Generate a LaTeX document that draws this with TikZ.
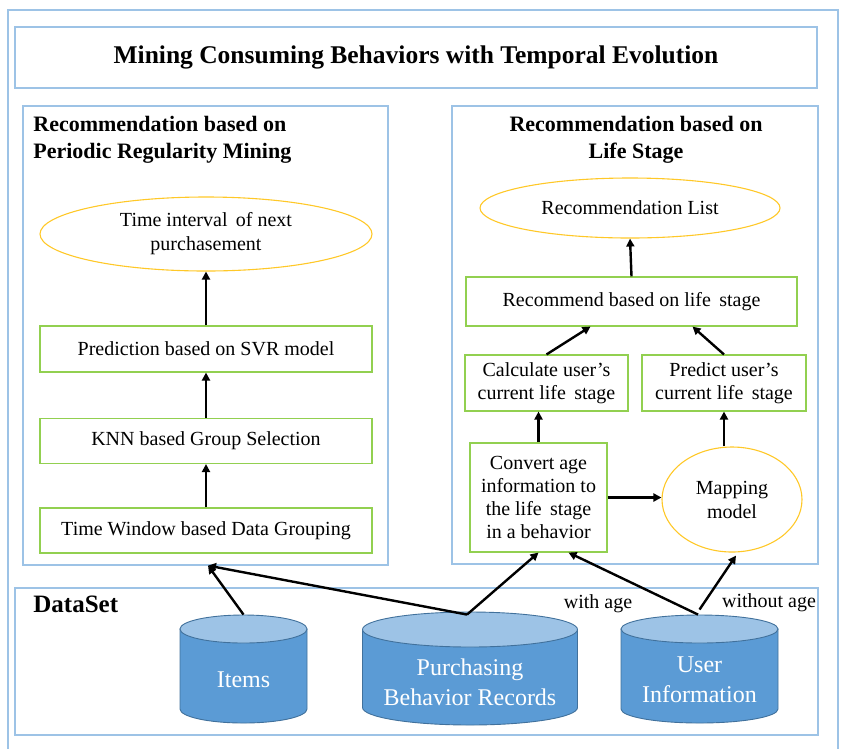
\documentclass[tikz,border=0pt]{standalone}
\usepackage{fontspec}
\setmainfont{Liberation Serif}
\usetikzlibrary{arrows.meta,shapes.geometric,calc}

\definecolor{frameblue}{RGB}{157,195,230}
\definecolor{boxgreen}{RGB}{146,208,80}
\definecolor{ovalyellow}{RGB}{255,200,40}
\definecolor{cylbody}{RGB}{91,155,213}
\definecolor{cyltop}{RGB}{157,195,230}
\definecolor{cylline}{RGB}{65,113,156}

\tikzset{every picture/.style={line width=0.75pt}}
\tikzset{
  panel/.style={draw=frameblue, line width=1.2pt, inner sep=0pt},
  stepbox/.style={draw=boxgreen, line width=1.1pt, align=center, inner sep=1pt, font=\fontsize{20}{23}\selectfont},
  oval/.style={ellipse, draw=ovalyellow, line width=1.1pt, align=center, inner sep=0pt, font=\fontsize{20}{24}\selectfont},
  dbbody/.style={draw=cylline, fill=cylbody, line width=0.9pt},
  dbcap/.style={ellipse, draw=cylline, fill=cyltop, line width=0.9pt, inner sep=0pt},
  dbtext/.style={text=white, align=center, inner sep=0pt, font=\fontsize{24}{30}\selectfont},
  flow/.style={-{Triangle[length=8pt,width=8pt]}, line width=2.4pt},
  heading/.style={inner sep=0pt, font=\fontsize{22}{27}\selectfont\bfseries}
}

\begin{document}
\begin{tikzpicture}[x=1pt,y=1pt,yscale=-1,xscale=1]
\useasboundingbox (0,0) rectangle (842,748);

%Shape: Outer Frame
\draw [frameblue, line width=1.2pt] (8,760) -- (8,10) -- (838,10) -- (838,760);

%Shape: Rectangle (title)
\node [panel, minimum width=802, minimum height=61, font=\fontsize{25.5}{30}\selectfont\bfseries] (title) at (416,57.5) {Mining Consuming Behaviors with Temporal Evolution};
%Shape: Rectangle (left panel)
\node [panel, minimum width=365, minimum height=459] (periodic) at (205.5,335.5) {};
%Shape: Rectangle (right panel)
\node [panel, minimum width=366, minimum height=458] (lifestage) at (635,335) {};
%Shape: Rectangle (data set)
\node [panel, minimum width=803, minimum height=147] (dataset) at (416.5,661.5) {};

% Text Node
\node [heading, anchor=north west, align=left] (periodichead) at (33,116) {Recommendation based on\\Periodic Regularity Mining};
% Text Node
\node [heading, anchor=north, align=center] (lifehead) at (636,116) {Recommendation based on\\Life Stage};
% Text Node
\node [heading, anchor=north west, font=\fontsize{25}{30}\selectfont\bfseries] (datahead) at (33,596) {DataSet};

%Left column
\node [oval, minimum width=332, minimum height=74] (interval) at (206,234) {Time interval\, of next\\purchasement};
\node [stepbox, minimum width=332, minimum height=46] (svr) at (206,349) {Prediction based on SVR model};
\node [stepbox, minimum width=332, minimum height=45] (knn) at (206,441) {KNN based Group Selection};
\node [stepbox, minimum width=332, minimum height=45] (window) at (206,530.5) {Time Window based Data Grouping};

%Right column
\node [oval, minimum width=300, minimum height=60] (reclist) at (630,208) {Recommendation List};
\node [stepbox, minimum width=331, minimum height=49] (recommend) at (631.5,301.5) {Recommend based on life\, stage};
\node [stepbox, minimum width=163, minimum height=56] (calc) at (546.5,383) {Calculate user's\\current life\, stage};
\node [stepbox, minimum width=164, minimum height=56] (predict) at (724,383) {Predict user's\\current life\, stage};
\node [stepbox, minimum width=137, minimum height=109] (convert) at (538.5,497.5) {Convert age\\information to\\the life\, stage\\in a behavior};
\node [oval, minimum width=140, minimum height=105] (mapping) at (732,499.5) {Mapping\\model};

%Shape: Can (items)
\draw [dbbody] (180,629) -- (180,709) arc[start angle=180, end angle=0, x radius=63.5, y radius=14] -- (307,629) -- cycle;
\node [dbcap, minimum width=127, minimum height=28] (items) at (243.5,629) {};
%Shape: Can (records)
\draw [dbbody] (362.5,629.5) -- (362.5,707.5) arc[start angle=180, end angle=0, x radius=107.5, y radius=17.5] -- (577.5,629.5) -- cycle;
\node [dbcap, minimum width=215, minimum height=35] (records) at (470,629.5) {};
%Shape: Can (users)
\draw [dbbody] (621,629) -- (621,709) arc[start angle=180, end angle=0, x radius=78.5, y radius=14] -- (778,629) -- cycle;
\node [dbcap, minimum width=157, minimum height=28] (users) at (699.5,629) {};

% Text Node
\node [dbtext] (itemstext) at (243.5,680) {Items};
% Text Node
\node [dbtext] (recordstext) at (470,682) {Purchasing\\Behavior Records};
% Text Node
\node [dbtext] (userstext) at (699.5,680) {User\\Information};

% Text Node
\node [font=\fontsize{20}{24}\selectfont] (withage) at (598,604) {with age};
% Text Node
\node [font=\fontsize{20}{24}\selectfont] (withoutage) at (769,603) {without age};

%Arrows left
\draw [flow] (window.north) -- (knn.south);
\draw [flow] (knn.north) -- (svr.south);
\draw [flow] (svr.north) -- (interval.south);

%Arrows right
\draw [flow] (recommend.north) -- (reclist.south);
\draw [flow] (calc.north) -- ([xshift=-41pt]recommend.south);
\draw [flow] (predict.north) -- ([xshift=61pt]recommend.south);
\draw [flow] (convert.north) -- (convert.north |- calc.south);
\draw [flow] (predict.south |- mapping.north) -- (predict.south);
\draw [flow] (convert.east) -- (convert.east -| mapping.west);

%Arrows from data set
\draw [flow] (items.north) -- ([xshift=2.5pt]periodic.south);
\draw [flow] ([xshift=-3pt,yshift=3pt]records.north) -- ([xshift=2.5pt]periodic.south);
\draw [flow] ([xshift=-3pt,yshift=3pt]records.north) -- (convert.south);
\draw [flow] ([xshift=-1.5pt]users.north) -- ([xshift=30pt]convert.south);
\draw [flow] ([yshift=-5pt]users.north) -- ([xshift=4pt,yshift=3pt]mapping.south);
\end{tikzpicture}
\end{document}
